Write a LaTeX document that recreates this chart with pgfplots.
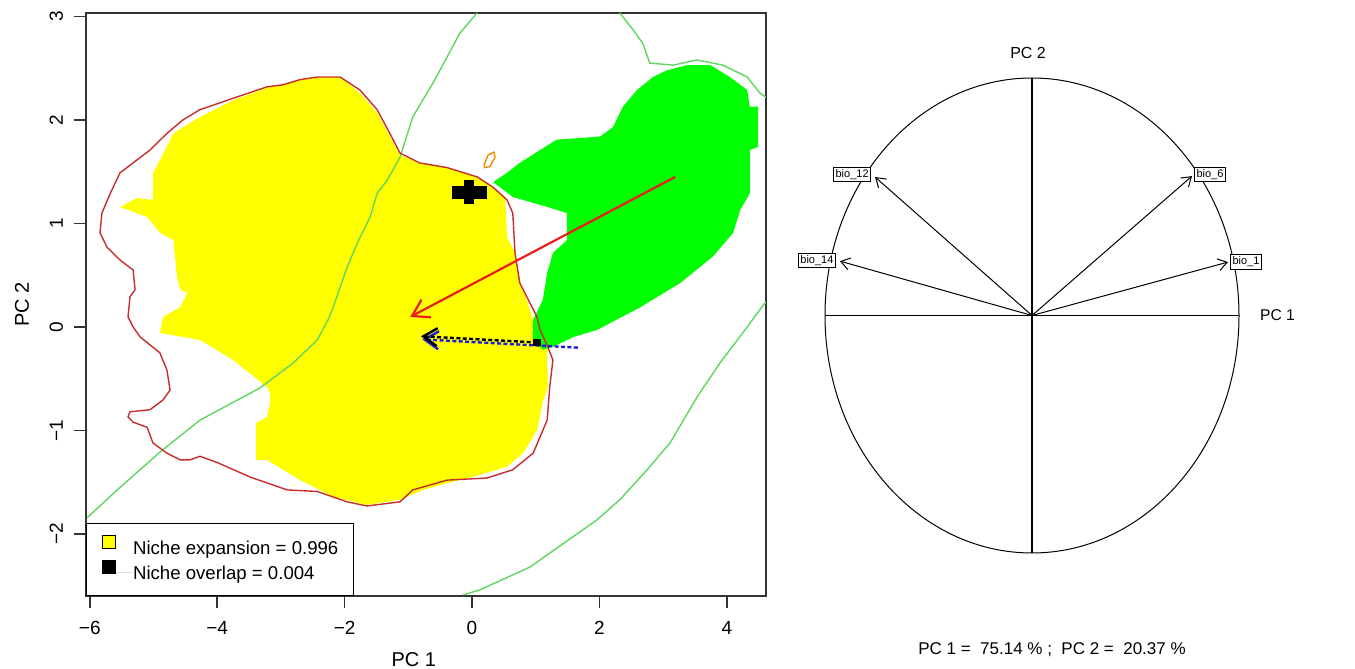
\documentclass[border=0pt]{standalone}
\usepackage{pgfplots}
\pgfplotsset{compat=1.18}
\usepackage{fontspec}
\setmainfont{Liberation Sans}
\usetikzlibrary{arrows.meta}

\definecolor{nicheyellow}{RGB}{255,255,0}
\definecolor{nichegreen}{RGB}{0,255,0}
\definecolor{contourred}{RGB}{200,45,45}
\definecolor{arrowred}{RGB}{235,30,30}
\definecolor{envgreen}{RGB}{95,215,95}
\definecolor{smallorange}{RGB}{240,140,0}
\definecolor{arrowblue}{RGB}{30,30,215}

\begin{document}
\begin{tikzpicture}
\useasboundingbox (0pt,0pt) rectangle (677.5pt,334.5pt);

% left panel: niche dynamics in PC space
\begin{axis}[
    name=niche,
    at={(43pt,36.5pt)}, anchor=south west,
    scale only axis, width=340pt, height=291.5pt,
    xmin=-6.06, xmax=4.615, ymin=-2.60, ymax=3.034,
    axis line style={black!80, line width=0.8pt},
    xtick={-6,-4,-2,0,2,4}, xticklabels={−6,−4,−2,0,2,4},
    ytick={-2,-1,0,1,2,3}, yticklabels={−2,−1,0,1,2,3},
    tick align=outside, tick pos=left, major tick length=6pt,
    tick style={black!80, line width=0.8pt},
    ticklabel style={font=\fontsize{9.5}{11}\selectfont},
    xticklabel style={yshift=-3pt},
    yticklabel style={xshift=-2pt, rotate=90, anchor=south},
    xlabel={PC 1}, ylabel={PC 2},
    label style={font=\fontsize{9.3}{11}\selectfont},
    every axis x label/.style={at={(rel axis cs:0.482,0)}, anchor=center, yshift=-32pt},
    every axis y label/.style={at={(rel axis cs:-0.094,0.5)}, rotate=90, anchor=center},
    legend style={at={(0,0)}, anchor=south west, draw=black, line width=0.6pt,
        fill=white, font=\fontsize{9.3}{11}\selectfont,
        inner xsep=7.5pt, inner ysep=6pt, row sep=0.5pt, column sep=0pt,
        nodes={inner sep=0pt, text height=9pt, text depth=2pt}},
    legend cell align=left,
]

% niche expansion (yellow raster)
\addplot[fill=nicheyellow, draw=none,
    legend image code/.code={\draw[fill=nicheyellow, draw=black, line width=0.5pt] (0pt,-0.5pt) rectangle (6.5pt,6pt);\path (6.5pt,0pt) -- (15.5pt,0pt);}]
coordinates {
(-4.69,1.87) (-4.27,2.03) (-3.75,2.19) (-3.22,2.31) (-2.70,2.39) (-2.43,2.415)
(-2.07,2.415) (-1.76,2.26) (-1.49,2.07) (-1.29,1.84) (-1.13,1.66) (-0.82,1.585)
(-0.39,1.54) (0.08,1.45) (0.33,1.35) (0.52,1.256) (0.55,0.87) (0.675,0.715)
(0.75,0.425) (0.86,0.26) (0.96,0.068) (1.18,-0.193) (1.19,-0.58) (1.11,-0.73)
(1.02,-1.00) (0.80,-1.22) (0.55,-1.35) (0.126,-1.43) (-0.39,-1.51) (-0.77,-1.575)
(-1.13,-1.67) (-1.65,-1.72) (-2.18,-1.64) (-2.70,-1.48) (-3.22,-1.285) (-3.39,-1.285)
(-3.39,-0.93) (-3.22,-0.87) (-3.17,-0.73) (-3.17,-0.64) (-3.22,-0.58) (-3.75,-0.32)
(-4.27,-0.126) (-4.90,-0.058) (-4.85,0.097) (-4.58,0.19) (-4.47,0.33) (-4.58,0.36)
(-4.63,0.48) (-4.69,0.84) (-4.90,0.91) (-5.10,1.063) (-5.526,1.16) (-5.26,1.246)
(-5.01,1.227) (-5.01,1.49) (-4.90,1.61)
} -- cycle;
\addlegendentry{Niche expansion = 0.996}

% unfilling / other range (green raster)
\addplot[fill=nichegreen, draw=none, forget plot] coordinates {
(0.33,1.40) (0.55,1.49) (0.75,1.585) (1.07,1.71) (1.33,1.81) (2.01,1.84)
(2.21,1.93) (2.37,2.13) (2.59,2.29) (2.84,2.415) (3.06,2.48) (3.375,2.53)
(3.74,2.53) (4.05,2.415) (4.32,2.29) (4.36,2.13) (4.49,2.13) (4.49,1.74)
(4.36,1.71) (4.36,1.29) (4.21,1.13) (4.10,0.91) (3.78,0.68) (3.27,0.425)
(2.64,0.19) (1.96,-0.03) (1.59,-0.097) (1.27,-0.193) (1.11,-0.22) (0.96,-0.126)
(0.96,0.068) (1.11,0.26) (1.18,0.52) (1.27,0.715) (1.49,0.84) (1.49,1.10)
(1.18,1.16) (0.64,1.256) (0.44,1.35)
} -- cycle;

% environment contour lines
\addplot[envgreen, line width=0.7pt, forget plot] coordinates {
(-6.044,-1.845) (-5.57,-1.575) (-4.90,-1.21) (-4.27,-0.90) (-3.33,-0.59)
(-2.81,-0.35) (-2.43,-0.126) (-2.26,0.068) (-2.18,0.19) (-1.96,0.58) (-1.80,0.81)
(-1.60,1.063) (-1.49,1.29) (-1.33,1.42) (-1.13,1.64) (-0.93,2.03) (-0.61,2.36)
(-0.39,2.61) (-0.19,2.84) (0.08,3.034)
};
\addplot[envgreen, line width=0.7pt, forget plot] coordinates {
(2.32,3.034) (2.53,2.87) (2.68,2.74) (2.79,2.55) (3.16,2.53) (3.53,2.58)
(3.94,2.53) (4.32,2.415) (4.52,2.26) (4.615,2.22)
};
\addplot[envgreen, line width=0.7pt, forget plot] coordinates {
(-0.14,-2.59) (0.126,-2.54) (0.91,-2.32) (1.96,-1.865) (2.32,-1.67) (2.75,-1.38)
(3.11,-1.12) (3.53,-0.68) (3.89,-0.35) (4.32,0) (4.57,0.21) (4.615,0.24)
};

% niche contour
\addplot[contourred, line width=0.7pt, forget plot] coordinates {
(-1.13,1.68) (-1.29,1.87) (-1.49,2.10) (-1.76,2.29) (-2.07,2.415) (-2.43,2.415)
(-2.70,2.39) (-2.97,2.34) (-3.22,2.32) (-3.75,2.21) (-4.27,2.10) (-4.54,2.00)
(-4.79,1.87) (-5.055,1.71) (-5.32,1.585) (-5.526,1.49) (-5.68,1.29) (-5.81,1.10)
(-5.84,0.91) (-5.73,0.77) (-5.526,0.647) (-5.32,0.55) (-5.29,0.36) (-5.37,0.29)
(-5.40,0.097) (-5.32,0) (-5.21,-0.097) (-4.90,-0.25) (-4.79,-0.415) (-4.74,-0.61)
(-4.85,-0.705) (-5.055,-0.80) (-5.37,-0.82) (-5.40,-0.87) (-5.32,-0.92) (-5.10,-0.97)
(-5.01,-1.12) (-4.79,-1.22) (-4.58,-1.285) (-4.43,-1.285) (-4.27,-1.25) (-4.00,-1.31)
(-3.485,-1.45) (-2.90,-1.575) (-2.43,-1.59) (-1.96,-1.69) (-1.65,-1.73) (-1.13,-1.69)
(-0.93,-1.575) (-0.39,-1.48) (0.235,-1.46) (0.64,-1.38) (0.96,-1.22) (1.18,-0.90)
(1.22,-0.58) (1.27,-0.32) (1.19,-0.193) (1.07,-0.03) (1.02,0.097) (0.75,0.425)
(0.675,0.715) (0.64,1.10) (0.55,1.227) (0.33,1.35) (0.08,1.45) (-0.39,1.54)
(-0.82,1.585)
} -- cycle;
\addplot[smallorange, line width=0.7pt, forget plot] coordinates {
(0.19,1.565) (0.25,1.66) (0.345,1.69) (0.36,1.64) (0.28,1.55) (0.20,1.54)
} -- cycle;

% niche overlap (black cross)
\addplot[fill=black, draw=none,
    legend image code/.code={\draw[fill=black, draw=black, line width=0.5pt] (0pt,-0.5pt) rectangle (6.5pt,6pt);\path (6.5pt,0pt) -- (15.5pt,0pt);}]
coordinates {(-0.31,1.24) (0.235,1.24) (0.235,1.36) (-0.31,1.36)} -- cycle;
\addlegendentry{Niche overlap = 0.004}
\addplot[fill=black, draw=none, forget plot]
coordinates {(-0.126,1.19) (0.031,1.19) (0.031,1.42) (-0.126,1.42)} -- cycle;

% centroid shifts
\addplot[arrowred, line width=1.1pt, forget plot, -{Straight Barb[length=8pt,width=10pt]}]
coordinates {(3.19,1.45) (-0.97,0.097)};
\addplot[arrowblue, line width=1.2pt, dash pattern=on 2pt off 1.2pt, forget plot,
    -{Straight Barb[length=7pt,width=9pt]}]
coordinates {(1.66,-0.20) (-0.78,-0.12)};
\addplot[black, line width=1.2pt, dash pattern=on 2pt off 1.2pt, forget plot,
    -{Straight Barb[length=7pt,width=9pt]}]
coordinates {(1.02,-0.15) (-0.80,-0.09)};
\addplot[only marks, mark=square*, mark size=1.6pt, black, forget plot]
coordinates {(1.02,-0.15)};
\end{axis}

% right panel: correlation circle
\begin{axis}[
    name=circ,
    at={(412.5pt,58pt)}, anchor=south west,
    scale only axis, width=207pt, height=237.5pt,
    xmin=-1, xmax=1, ymin=-1, ymax=1,
    axis lines=none, clip=false,
]
\draw[black, line width=0.5pt] (axis cs:0,0) circle [radius=1];
\addplot[black, line width=0.8pt] coordinates {(-1,0) (1,0)};
\addplot[black, line width=0.8pt] coordinates {(0,-1) (0,1)};
\addplot[black, line width=0.5pt, -{Straight Barb[length=4.5pt,width=6pt]}] coordinates {(0,0) (-0.758,0.583)};
\addplot[black, line width=0.5pt, -{Straight Barb[length=4.5pt,width=6pt]}] coordinates {(0,0) (-0.928,0.229)};
\addplot[black, line width=0.5pt, -{Straight Barb[length=4.5pt,width=6pt]}] coordinates {(0,0) (0.773,0.587)};
\addplot[black, line width=0.5pt, -{Straight Barb[length=4.5pt,width=6pt]}] coordinates {(0,0) (0.947,0.225)};
\begin{scope}[every node/.style={draw=black, fill=white, line width=0.5pt, inner xsep=1pt, inner ysep=1pt,
    font=\fontsize{5.5}{6}\selectfont}]
\node at (axis cs:-0.869,0.592) {bio\_12};
\node at (axis cs:-1.039,0.230) {bio\_14};
\node at (axis cs:0.860,0.592) {bio\_6};
\node at (axis cs:1.034,0.225) {bio\_1};
\end{scope}
\node[font=\fontsize{8}{10}\selectfont] at (axis cs:-0.019,1.105) {PC 2};
\node[font=\fontsize{7.8}{10}\selectfont, anchor=west, inner sep=0pt] at (axis cs:1.10,0) {PC 1};
\end{axis}

\node[font=\fontsize{8.5}{10}\selectfont] at (526pt,9.5pt)
    {PC 1 =\ \ 75.14 \% ;\ \ PC 2 =\ \ 20.37 \%};
\end{tikzpicture}
\end{document}
